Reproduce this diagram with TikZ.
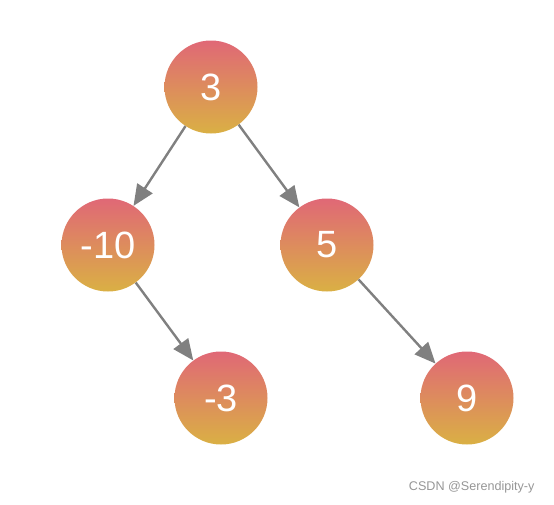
\documentclass[tikz,border=0pt]{standalone}
\usepackage{fontspec}
\setmainfont{Liberation Sans}
\usetikzlibrary{arrows.meta}
\definecolor{topc}{RGB}{224,104,118}
\definecolor{botc}{RGB}{218,176,68}
\definecolor{edgec}{RGB}{128,128,128}
\definecolor{wmc}{RGB}{150,150,150}
\begin{document}
\begin{tikzpicture}[x=1pt,y=-1pt,
  treenode/.style={circle,minimum size=93pt,inner sep=0pt,top color=topc,bottom color=botc,draw=none,text=white,font=\fontsize{38}{42}\selectfont},
  edge/.style={draw=edgec,line width=2.4pt,-{Triangle[length=21pt,width=18pt]}}]
\useasboundingbox (0,0) rectangle (554,504);
\node[treenode] (n3) at (211,87) {3};
\node[treenode] (n10) at (108,245) {-10};
\node[treenode] (n5) at (327,245) {5};
\node[treenode] (nm3) at (221,398) {-3};
\node[treenode] (n9) at (467,398) {9};
\draw[edge] (n3) -- (n10);
\draw[edge] (n3) -- (n5);
\draw[edge] (n10) -- (nm3);
\draw[edge] (n5) -- (n9);
\node[text=wmc,font=\fontsize{12.6}{14}\selectfont,anchor=east] (wm) at (538,487) {CSDN @Serendipity-y};
\end{tikzpicture}
\end{document}
